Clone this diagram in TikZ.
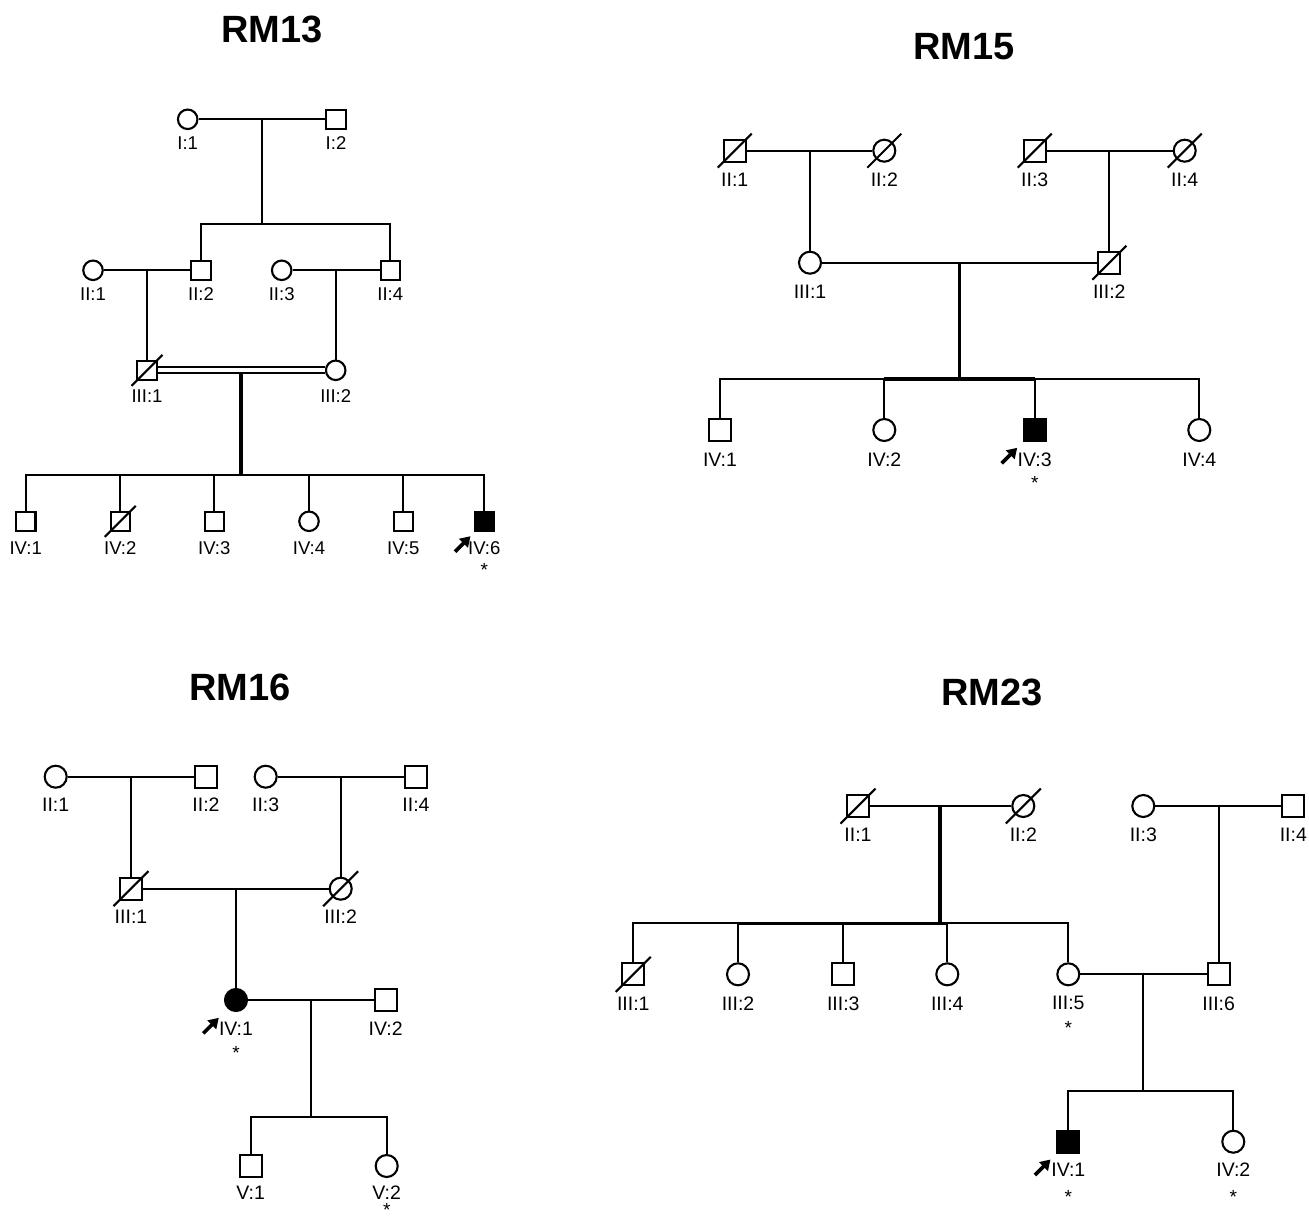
\documentclass[tikz,border=0pt]{standalone}
\usepackage{fontspec}
\setmainfont{Liberation Sans}
\usetikzlibrary{arrows.meta,calc}
\newcommand\deadmark[2]{\draw[slash] ($(#1)+(-#2,#2)$) -- ($(#1)+(#2,-#2)$);}
\begin{document}
\begin{tikzpicture}[x=1pt,y=-1pt,
  ln/.style={line width=2.1pt},
  thk/.style={line width=3.2pt},
  male/.style={draw,line width=2.1pt,rectangle,minimum size=22pt,inner sep=0pt,fill=white},
  female/.style={draw,line width=2.1pt,circle,minimum size=22pt,inner sep=0pt,fill=white},
  aff/.style={fill=black},
  small/.style={minimum size=19.5pt},
  lab/.style={font=\fontsize{19.5}{19.5}\selectfont,inner sep=0pt},
  labs/.style={font=\fontsize{18.5}{18.5}\selectfont,inner sep=0pt},
  ttl/.style={font=\fontsize{38}{38}\selectfont\bfseries,inner sep=0pt},
  astr/.style={font=\fontsize{19}{19}\selectfont,inner sep=0pt,anchor=north},
  proband/.style={line width=3.6pt,-{Triangle[length=10pt,width=12pt]}},
  slash/.style={line width=2.1pt}
]
\fill[white] (0,0) rectangle (1309,1221);
\useasboundingbox (0,0) rectangle (1309,1221);

% ================= RM13 =================
\node[ttl] (t13) at (271.7,29) {RM13};
\node[female,small] (a11) at (187.7,119.3) {};
\node[male,small] (a12) at (336,119.3) {};
\node[labs] (a11l) at (187.7,143.3) {I:1};
\node[labs] (a12l) at (336,143.3) {I:2};
\coordinate (a1m) at (262.3,119.3);
\coordinate (a1s) at (262.3,224);
\node[female,small] (a21) at (93,270.3) {};
\node[male,small] (a22) at (201,270.3) {};
\node[female,small] (a23) at (281.7,270.3) {};
\node[male,small] (a24) at (390.3,270.3) {};
\node[labs] (a21l) at (93,294.3) {II:1};
\node[labs] (a22l) at (201,294.3) {II:2};
\node[labs] (a23l) at (281.7,294.3) {II:3};
\node[labs] (a24l) at (390.3,294.3) {II:4};
\coordinate (a2m1) at (147,270.3);
\coordinate (a2m2) at (335.7,270.3);
\node[male,small] (a31) at (147,370.3) {};
\node[female,small] (a32) at (335.7,370.3) {};
\node[labs] (a31l) at (147,395.7) {III:1};
\node[labs] (a32l) at (335.7,395.7) {III:2};
\coordinate (a3m) at (241,373.3);
\coordinate (a3s) at (241,475);
\node[male,small] (a41) at (25.7,521.3) {};
\node[male,small] (a42) at (120.3,521.3) {};
\node[male,small] (a43) at (214.3,521.3) {};
\node[female,small] (a44) at (309,521.3) {};
\node[male,small] (a45) at (403.3,521.3) {};
\node[male,small,aff] (a46) at (484.3,521.3) {};
\node[labs] (a41l) at (25.7,548.3) {IV:1};
\node[labs] (a42l) at (120.3,548.3) {IV:2};
\node[labs] (a43l) at (214.3,548.3) {IV:3};
\node[labs] (a44l) at (309,548.3) {IV:4};
\node[labs] (a45l) at (403.3,548.3) {IV:5};
\node[labs] (a46l) at (484.3,548.3) {IV:6};
\node[astr] (a46s) at (484.3,563.5) {*};
\coordinate (a46a) at (455,551.7);
\coordinate (a46b) at (470.5,536.2);

\draw[ln] (a11) -- (a12);
\draw[ln] (a1m) -- (a1s);
\draw[ln] (a22) |- (a1s) -| (a24);
\draw[ln] (a21) -- (a22);
\draw[ln] (a23) -- (a24);
\draw[ln] (a2m1) -- (a31);
\draw[ln] (a2m2) -- (a32);
\draw[line width=2pt,double,double distance=4pt] (a31) -- (a32);
\draw[line width=3.5pt] (a3m) -- (a3s);
\draw[ln] (a41) |- (a3s) -| (a46);
\foreach \c in {a42,a43,a44,a45} \draw[ln] (\c) -- (\c |- a3s);
\deadmark{a31}{15.5}
\deadmark{a42}{15.5}
\draw[proband] (a46a) -- (a46b);

% ================= RM15 =================
\node[ttl] (t15) at (964,46.7) {RM15};
\node[male] (b21) at (734.7,150.7) {};
\node[female] (b22) at (884.3,150.7) {};
\node[male] (b23) at (1034.7,150.7) {};
\node[female] (b24) at (1184.7,150.7) {};
\node[lab] (b21l) at (734.7,180) {II:1};
\node[lab] (b22l) at (884.3,180) {II:2};
\node[lab] (b23l) at (1034.7,180) {II:3};
\node[lab] (b24l) at (1184.7,180) {II:4};
\coordinate (b2m1) at (810,150.7);
\coordinate (b2m2) at (1109.3,150.7);
\node[female] (b31) at (810,262.7) {};
\node[male] (b32) at (1109.3,262.7) {};
\node[lab] (b31l) at (810,291.7) {III:1};
\node[lab] (b32l) at (1109.3,291.7) {III:2};
\coordinate (b3m) at (959.3,262.7);
\coordinate (b3s) at (959.3,379);
\node[male] (b41) at (720,430) {};
\node[female] (b42) at (884.3,430) {};
\node[male,aff] (b43) at (1034.7,430) {};
\node[female] (b44) at (1199.3,430) {};
\node[lab] (b41l) at (720,460) {IV:1};
\node[lab] (b42l) at (884.3,460) {IV:2};
\node[lab] (b43l) at (1034.7,460) {IV:3};
\node[lab] (b44l) at (1199.3,460) {IV:4};
\node[astr] (b43s) at (1034.7,476.5) {*};
\coordinate (b43a) at (1001.7,463.3);
\coordinate (b43b) at (1017.2,447.8);

\draw[ln] (b21) -- (b22);
\draw[ln] (b23) -- (b24);
\draw[ln] (b2m1) -- (b31);
\draw[ln] (b2m2) -- (b32);
\draw[ln] (b31) -- (b32);
\draw[thk] (b3m) -- (b3s);
\draw[ln] (b41) |- (b3s) -| (b44);
\foreach \c in {b42,b43} \draw[ln] (\c) -- (\c |- b3s);
\draw[thk] (b42 |- b3s) -- (b43 |- b3s);
\deadmark{b21}{17}
\deadmark{b22}{17}
\deadmark{b23}{17}
\deadmark{b24}{17}
\deadmark{b32}{17}
\draw[proband] (b43a) -- (b43b);

% ================= RM16 =================
\node[ttl] (t16) at (240,687.5) {RM16};
\node[female] (c21) at (55.7,776.7) {};
\node[male] (c22) at (206,776.7) {};
\node[female] (c23) at (265.7,776.7) {};
\node[male] (c24) at (416,776.7) {};
\node[lab] (c21l) at (55.7,805) {II:1};
\node[lab] (c22l) at (206,805) {II:2};
\node[lab] (c23l) at (265.7,805) {II:3};
\node[lab] (c24l) at (416,805) {II:4};
\coordinate (c2m1) at (131,776.7);
\coordinate (c2m2) at (340.7,776.7);
\node[male] (c31) at (131,888.7) {};
\node[female] (c32) at (340.7,888.7) {};
\node[lab] (c31l) at (131,916.7) {III:1};
\node[lab] (c32l) at (340.7,916.7) {III:2};
\coordinate (c3m) at (236,888.7);
\node[female,aff] (c41) at (236,1000) {};
\node[male] (c42) at (385.7,1000) {};
\node[lab] (c41l) at (236,1028.3) {IV:1};
\node[lab] (c42l) at (385.7,1028.3) {IV:2};
\node[astr] (c41s) at (236,1046.5) {*};
\coordinate (c41a) at (203.3,1033.3);
\coordinate (c41b) at (218.8,1017.8);
\coordinate (c4m) at (311,1000);
\coordinate (c4s) at (311,1117.3);
\node[male] (c51) at (250.7,1166) {};
\node[female] (c52) at (386.7,1166) {};
\node[lab] (c51l) at (250.7,1192.5) {V:1};
\node[lab] (c52l) at (386.7,1192.5) {V:2};
\node[astr,anchor=base] (c52s) at (386.7,1216) {*};

\draw[ln] (c21) -- (c22);
\draw[ln] (c23) -- (c24);
\draw[ln] (c2m1) -- (c31);
\draw[ln] (c2m2) -- (c32);
\draw[ln] (c31) -- (c32);
\draw[ln] (c3m) -- (c41);
\draw[ln] (c41) -- (c42);
\draw[ln] (c4m) -- (c4s);
\draw[ln] (c51) |- (c4s) -| (c52);
\deadmark{c31}{17.5}
\deadmark{c32}{17.5}
\draw[proband] (c41a) -- (c41b);

% ================= RM23 =================
\node[ttl] (t23) at (991.7,692) {RM23};
\node[male] (d21) at (858,806) {};
\node[female] (d22) at (1023.3,806) {};
\node[female] (d23) at (1143.3,806) {};
\node[male] (d24) at (1293.3,806) {};
\node[lab] (d21l) at (858,835) {II:1};
\node[lab] (d22l) at (1023.3,835) {II:2};
\node[lab] (d23l) at (1143.3,835) {II:3};
\node[lab] (d24l) at (1293.3,835) {II:4};
\coordinate (d2m1) at (940,806);
\coordinate (d2s) at (940,923.3);
\coordinate (d2m2) at (1218.7,806);
\node[male] (d31) at (633.3,974.3) {};
\node[female] (d32) at (738,974.3) {};
\node[male] (d33) at (843.3,974.3) {};
\node[female] (d34) at (947.3,974.3) {};
\node[female] (d35) at (1068.3,974.3) {};
\node[male] (d36) at (1218.7,974.3) {};
\node[lab] (d31l) at (633.3,1003.3) {III:1};
\node[lab] (d32l) at (738,1003.3) {III:2};
\node[lab] (d33l) at (843.3,1003.3) {III:3};
\node[lab] (d34l) at (947.3,1003.3) {III:4};
\node[lab] (d35l) at (1068.3,1003.3) {III:5};
\node[lab] (d36l) at (1218.7,1003.3) {III:6};
\node[astr] (d35s) at (1068.3,1021.5) {*};
\coordinate (d3m) at (1143.3,974.3);
\coordinate (d3s) at (1143.3,1090.7);
\node[male,aff] (d41) at (1068.3,1141.7) {};
\node[female] (d42) at (1233.3,1141.7) {};
\node[lab] (d41l) at (1068.3,1170) {IV:1};
\node[lab] (d42l) at (1233.3,1170) {IV:2};
\node[astr] (d41s) at (1068.3,1190) {*};
\node[astr] (d42s) at (1233.3,1190) {*};
\coordinate (d41a) at (1035,1175);
\coordinate (d41b) at (1050.5,1159.5);

\draw[ln] (d21) -- (d22);
\draw[ln] (d23) -- (d24);
\draw[thk] (d2m1) -- (d2s);
\draw[ln] (d31) |- (d2s) -| (d35);
\foreach \c in {d32,d33,d34} \draw[ln] (\c) -- (\c |- d2s);
\draw[thk] (d32 |- d2s) -- (d34 |- d2s);
\draw[ln] (d2m2) -- (d36);
\draw[ln] (d35) -- (d36);
\draw[ln] (d3m) -- (d3s);
\draw[ln] (d41) |- (d3s) -| (d42);
\deadmark{d21}{17.5}
\deadmark{d22}{17.5}
\deadmark{d31}{17.5}
\draw[proband] (d41a) -- (d41b);
\end{tikzpicture}
\end{document}
